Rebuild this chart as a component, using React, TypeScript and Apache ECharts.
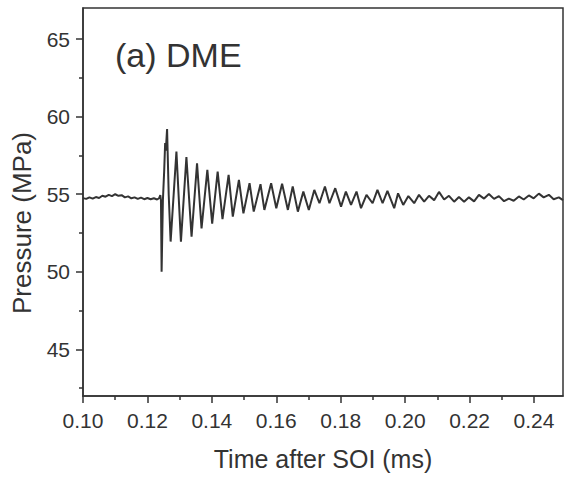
import React, { useEffect, useRef } from "react";
import * as echarts from "echarts";

// Injection line pressure after start of injection (SOI), DME fuel.
const timeMs = [
  0.1, 0.101, 0.102, 0.103, 0.104, 0.105, 0.106, 0.107, 0.108, 0.109,
  0.11, 0.111, 0.112, 0.113, 0.114, 0.115, 0.116, 0.117, 0.118, 0.119,
  0.12, 0.121, 0.122, 0.123, 0.1236, 0.124, 0.1242, 0.1244, 0.1248, 0.1252,
  0.1255, 0.1257, 0.1261, 0.1266, 0.1272, 0.129, 0.1304, 0.1321, 0.1337, 0.1354,
  0.1368, 0.1386, 0.1401, 0.1418, 0.1433, 0.1452, 0.1465, 0.1484, 0.1498, 0.1517,
  0.153, 0.1551, 0.1563, 0.1584, 0.16, 0.1618, 0.1636, 0.1651, 0.1667, 0.1684,
  0.1701, 0.1718, 0.1734, 0.1751, 0.1765, 0.1783, 0.1801, 0.1816, 0.1832, 0.1849,
  0.1863, 0.188, 0.1899, 0.1914, 0.193, 0.1945, 0.1966, 0.1978, 0.1994, 0.201,
  0.2028, 0.2043, 0.2059, 0.2074, 0.209, 0.2105, 0.2121, 0.2136, 0.2152, 0.2167,
  0.2183, 0.2198, 0.2214, 0.2229, 0.2245, 0.226, 0.2276, 0.2291, 0.2307, 0.2322,
  0.2337, 0.2353, 0.2368, 0.2384, 0.2399, 0.2415, 0.243, 0.2446, 0.2461, 0.2477,
  0.249,
];

const pressureMPa = [
  54.75, 54.7, 54.8, 54.72, 54.82, 54.76, 54.9, 54.84, 54.96, 54.88,
  55.0, 54.9, 54.94, 54.8, 54.86, 54.74, 54.8, 54.7, 54.78, 54.68,
  54.76, 54.68, 54.74, 54.66, 54.74, 54.95, 54.6, 50.0, 54.6, 56.5,
  58.3, 57.8, 59.2, 55.0, 51.95, 57.75, 51.95, 57.4, 52.27, 57.0,
  52.8, 56.57, 53.1, 56.46, 53.4, 56.25, 53.56, 55.92, 53.77, 55.71,
  53.88, 55.65, 53.99, 55.71, 54.1, 55.68, 53.99, 55.5, 53.88, 55.17,
  53.99, 55.28, 54.42, 55.5, 54.42, 55.39, 54.2, 55.17, 54.31, 55.17,
  54.1, 54.96, 54.42, 55.28, 54.42, 55.22, 54.1, 55.06, 54.31, 54.88,
  54.42, 54.96, 54.53, 54.9, 54.62, 55.15, 54.66, 54.9, 54.52, 54.82,
  54.52, 54.8, 54.54, 54.96, 54.72, 55.02, 54.7, 54.88, 54.55, 54.72,
  54.58, 54.86, 54.66, 54.92, 54.74, 55.04, 54.8, 54.96, 54.68, 54.8,
  54.62,
];

const xLabelValues = [0.1, 0.12, 0.14, 0.16, 0.18, 0.2, 0.22, 0.24];
const xMinorValues = [0.11, 0.13, 0.15, 0.17, 0.19, 0.21, 0.23];
const yLabelValues = [45, 50, 55, 60, 65];
const yMinorValues = [42.5, 47.5, 52.5, 57.5, 62.5];

const X_MIN = 0.1;
const X_MAX = 0.249;
const Y_MIN = 42;
const Y_MAX = 67;

const INK = "#333333";
const FONT = "'Liberation Sans', Arial, Helvetica, sans-serif";

const tickStyle = { color: INK, width: 1.5 };

export default function App() {
  const ref = useRef<HTMLDivElement | null>(null);

  useEffect(() => {
    if (!ref.current) return;
    const chart = echarts.init(ref.current, null, { renderer: "svg" });

    const series = timeMs.map((t, i) => [t, pressureMPa[i]]);

    chart.setOption({
      animation: false,
      backgroundColor: "#ffffff",
      textStyle: { fontFamily: FONT, color: INK },
      grid: {
        left: 83,
        top: 8,
        right: 3,
        bottom: 81,
        show: true,
        borderColor: INK,
        borderWidth: 1.5,
        backgroundColor: "transparent",
      },
      xAxis: [
        {
          type: "value",
          min: X_MIN,
          max: X_MAX,
          position: "bottom",
          name: "Time after SOI (ms)",
          nameLocation: "middle",
          nameGap: 50,
          nameTextStyle: { fontSize: 25, color: INK, fontFamily: FONT },
          axisLine: { show: true, lineStyle: { color: INK, width: 1.5 } },
          axisTick: {
            show: true,
            inside: false,
            length: 7,
            customValues: xLabelValues,
            lineStyle: tickStyle,
          },
          axisLabel: {
            margin: 14,
            fontSize: 21,
            color: INK,
            fontFamily: FONT,
            customValues: xLabelValues,
            formatter: (v: number) => v.toFixed(2),
          },
          splitLine: { show: false },
        },
        {
          type: "value",
          min: X_MIN,
          max: X_MAX,
          position: "bottom",
          offset: 0,
          axisLine: { show: false },
          axisTick: {
            show: true,
            inside: false,
            length: 4,
            customValues: xMinorValues,
            lineStyle: tickStyle,
          },
          axisLabel: { show: false },
          splitLine: { show: false },
        },
      ],
      yAxis: [
        {
          type: "value",
          min: Y_MIN,
          max: Y_MAX,
          position: "left",
          axisLine: { show: true, lineStyle: { color: INK, width: 1.5 } },
          axisTick: {
            show: true,
            inside: false,
            length: 7,
            customValues: yLabelValues,
            lineStyle: tickStyle,
          },
          axisLabel: {
            margin: 13,
            fontSize: 21,
            color: INK,
            fontFamily: FONT,
            customValues: yLabelValues,
          },
          splitLine: { show: false },
        },
        {
          type: "value",
          min: Y_MIN,
          max: Y_MAX,
          position: "left",
          offset: 0,
          axisLine: { show: false },
          axisTick: {
            show: true,
            inside: false,
            length: 4,
            customValues: yMinorValues,
            lineStyle: tickStyle,
          },
          axisLabel: { show: false },
          splitLine: { show: false },
        },
      ],
      graphic: [
        {
          type: "text",
          x: 115,
          y: 55,
          style: {
            text: "(a) DME",
            font: `34px ${FONT}`,
            fill: INK,
            textAlign: "left",
            textVerticalAlign: "middle",
          },
        },
        {
          type: "text",
          x: 22,
          y: 223,
          rotation: Math.PI / 2,
          style: {
            text: "Pressure (MPa)",
            font: `26px ${FONT}`,
            fill: INK,
            textAlign: "center",
            textVerticalAlign: "middle",
          },
        },
      ],
      series: [
        {
          type: "line",
          data: series,
          xAxisIndex: 0,
          yAxisIndex: 0,
          showSymbol: false,
          symbol: "none",
          lineStyle: { color: "#333333", width: 2 },
          clip: true,
        },
      ],
    });

    return () => chart.dispose();
  }, []);

  return (
    <div
      ref={ref}
      style={{ position: "fixed", left: 0, top: 0, width: 566, height: 477, background: "#fff" }}
    />
  );
}
